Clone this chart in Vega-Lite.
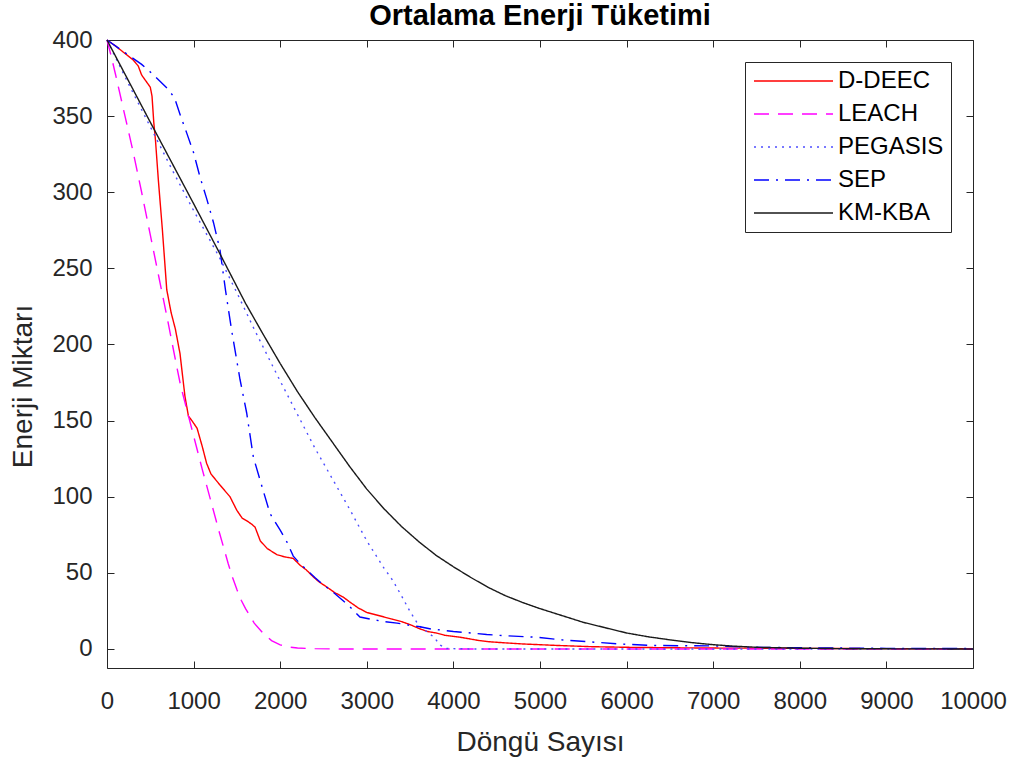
{
  "$schema": "https://vega.github.io/schema/vega-lite/v6.json",
  "width": 866,
  "height": 628,
  "autosize": {"type": "none"},
  "padding": {"left": 107, "top": 40, "right": 48, "bottom": 97},
  "background": "white",
  "config": {
    "view": {"stroke": "#262626", "strokeWidth": 1},
    "font": "Liberation Sans"
  },
  "title": {"text": "Ortalama Enerji Tüketimi", "font": "Liberation Sans", "fontSize": 29, "fontWeight": "bold", "color": "#000000", "offset": 3, "dy": 29, "baseline": "alphabetic", "anchor": "middle", "frame": "group"},
  "data": {"values": [
    {"s":"D-DEEC","x":0,"y":400},{"s":"D-DEEC","x":100,"y":396},{"s":"D-DEEC","x":200,"y":391.5},{"s":"D-DEEC","x":300,"y":387},{"s":"D-DEEC","x":360,"y":383},{"s":"D-DEEC","x":400,"y":377},{"s":"D-DEEC","x":450,"y":373},{"s":"D-DEEC","x":500,"y":369},{"s":"D-DEEC","x":520,"y":363},{"s":"D-DEEC","x":540,"y":346},{"s":"D-DEEC","x":560,"y":334},{"s":"D-DEEC","x":593,"y":308},{"s":"D-DEEC","x":640,"y":275},{"s":"D-DEEC","x":690,"y":236},{"s":"D-DEEC","x":740,"y":221},{"s":"D-DEEC","x":790,"y":210},{"s":"D-DEEC","x":843,"y":194},{"s":"D-DEEC","x":900,"y":166},{"s":"D-DEEC","x":940,"y":153},{"s":"D-DEEC","x":980,"y":150},{"s":"D-DEEC","x":1040,"y":145},{"s":"D-DEEC","x":1100,"y":133},{"s":"D-DEEC","x":1150,"y":122},{"s":"D-DEEC","x":1200,"y":115},{"s":"D-DEEC","x":1300,"y":108},{"s":"D-DEEC","x":1420,"y":100},{"s":"D-DEEC","x":1500,"y":91},{"s":"D-DEEC","x":1560,"y":86},{"s":"D-DEEC","x":1620,"y":84},{"s":"D-DEEC","x":1670,"y":82},{"s":"D-DEEC","x":1710,"y":80},{"s":"D-DEEC","x":1770,"y":71},{"s":"D-DEEC","x":1850,"y":66},{"s":"D-DEEC","x":1960,"y":62},{"s":"D-DEEC","x":2050,"y":60.5},{"s":"D-DEEC","x":2150,"y":59.5},{"s":"D-DEEC","x":2230,"y":55},{"s":"D-DEEC","x":2300,"y":52},{"s":"D-DEEC","x":2380,"y":47.5},{"s":"D-DEEC","x":2450,"y":44},{"s":"D-DEEC","x":2530,"y":41},{"s":"D-DEEC","x":2630,"y":37},{"s":"D-DEEC","x":2730,"y":34},{"s":"D-DEEC","x":2800,"y":31},{"s":"D-DEEC","x":2900,"y":27},{"s":"D-DEEC","x":3000,"y":24},{"s":"D-DEEC","x":3100,"y":22.5},{"s":"D-DEEC","x":3200,"y":21},{"s":"D-DEEC","x":3300,"y":19.5},{"s":"D-DEEC","x":3400,"y":18},{"s":"D-DEEC","x":3500,"y":16},{"s":"D-DEEC","x":3600,"y":13.5},{"s":"D-DEEC","x":3700,"y":11.5},{"s":"D-DEEC","x":3800,"y":10.5},{"s":"D-DEEC","x":3900,"y":9},{"s":"D-DEEC","x":4000,"y":8.3},{"s":"D-DEEC","x":4100,"y":7.5},{"s":"D-DEEC","x":4200,"y":6.5},{"s":"D-DEEC","x":4300,"y":5.5},{"s":"D-DEEC","x":4400,"y":4.8},{"s":"D-DEEC","x":4600,"y":4},{"s":"D-DEEC","x":4800,"y":3.3},{"s":"D-DEEC","x":5000,"y":2.8},{"s":"D-DEEC","x":5200,"y":2.3},{"s":"D-DEEC","x":5400,"y":1.9},{"s":"D-DEEC","x":5600,"y":1.5},{"s":"D-DEEC","x":6000,"y":1.1},{"s":"D-DEEC","x":6500,"y":0.8},{"s":"D-DEEC","x":7000,"y":0.6},{"s":"D-DEEC","x":7500,"y":0.5},{"s":"D-DEEC","x":8000,"y":0.4},{"s":"D-DEEC","x":9000,"y":0.2},{"s":"D-DEEC","x":10000,"y":0.1},
    {"s":"LEACH","x":0,"y":400},{"s":"LEACH","x":50,"y":389},{"s":"LEACH","x":100,"y":377},{"s":"LEACH","x":200,"y":352},{"s":"LEACH","x":300,"y":327},{"s":"LEACH","x":400,"y":300},{"s":"LEACH","x":500,"y":272},{"s":"LEACH","x":600,"y":244},{"s":"LEACH","x":700,"y":216},{"s":"LEACH","x":800,"y":187},{"s":"LEACH","x":850,"y":173},{"s":"LEACH","x":900,"y":162},{"s":"LEACH","x":1000,"y":140},{"s":"LEACH","x":1100,"y":118},{"s":"LEACH","x":1200,"y":97},{"s":"LEACH","x":1300,"y":76},{"s":"LEACH","x":1400,"y":56},{"s":"LEACH","x":1450,"y":47},{"s":"LEACH","x":1500,"y":39},{"s":"LEACH","x":1550,"y":32},{"s":"LEACH","x":1600,"y":26.5},{"s":"LEACH","x":1700,"y":17},{"s":"LEACH","x":1800,"y":10.5},{"s":"LEACH","x":1900,"y":5.5},{"s":"LEACH","x":2000,"y":2.7},{"s":"LEACH","x":2100,"y":1.3},{"s":"LEACH","x":2200,"y":0.6},{"s":"LEACH","x":2400,"y":0.2},{"s":"LEACH","x":2700,"y":0},{"s":"LEACH","x":10000,"y":0},
    {"s":"PEGASIS","x":0,"y":400},{"s":"PEGASIS","x":250,"y":371},{"s":"PEGASIS","x":500,"y":343},{"s":"PEGASIS","x":750,"y":315},{"s":"PEGASIS","x":1000,"y":288},{"s":"PEGASIS","x":1300,"y":257},{"s":"PEGASIS","x":1500,"y":234},{"s":"PEGASIS","x":1700,"y":210},{"s":"PEGASIS","x":2000,"y":176},{"s":"PEGASIS","x":2200,"y":154},{"s":"PEGASIS","x":2400,"y":132},{"s":"PEGASIS","x":2600,"y":112},{"s":"PEGASIS","x":2800,"y":92},{"s":"PEGASIS","x":3000,"y":71},{"s":"PEGASIS","x":3200,"y":53},{"s":"PEGASIS","x":3300,"y":45},{"s":"PEGASIS","x":3400,"y":35},{"s":"PEGASIS","x":3500,"y":24.5},{"s":"PEGASIS","x":3600,"y":15.5},{"s":"PEGASIS","x":3700,"y":11},{"s":"PEGASIS","x":3770,"y":8},{"s":"PEGASIS","x":3850,"y":2.5},{"s":"PEGASIS","x":3920,"y":0.3},{"s":"PEGASIS","x":4200,"y":0},{"s":"PEGASIS","x":10000,"y":0},
    {"s":"SEP","x":0,"y":400},{"s":"SEP","x":200,"y":392},{"s":"SEP","x":400,"y":384},{"s":"SEP","x":500,"y":379},{"s":"SEP","x":600,"y":373.5},{"s":"SEP","x":700,"y":368},{"s":"SEP","x":780,"y":362},{"s":"SEP","x":850,"y":350},{"s":"SEP","x":920,"y":339},{"s":"SEP","x":1000,"y":326},{"s":"SEP","x":1074,"y":310},{"s":"SEP","x":1150,"y":296},{"s":"SEP","x":1230,"y":280},{"s":"SEP","x":1305,"y":262},{"s":"SEP","x":1370,"y":235},{"s":"SEP","x":1440,"y":209},{"s":"SEP","x":1536,"y":177},{"s":"SEP","x":1613,"y":155},{"s":"SEP","x":1690,"y":126},{"s":"SEP","x":1767,"y":111},{"s":"SEP","x":1882,"y":89},{"s":"SEP","x":2000,"y":78},{"s":"SEP","x":2080,"y":70},{"s":"SEP","x":2151,"y":61},{"s":"SEP","x":2230,"y":56},{"s":"SEP","x":2306,"y":52},{"s":"SEP","x":2400,"y":47},{"s":"SEP","x":2500,"y":42},{"s":"SEP","x":2575,"y":39},{"s":"SEP","x":2700,"y":33},{"s":"SEP","x":2800,"y":28},{"s":"SEP","x":2921,"y":21},{"s":"SEP","x":3050,"y":19.5},{"s":"SEP","x":3191,"y":18},{"s":"SEP","x":3350,"y":17},{"s":"SEP","x":3500,"y":15.5},{"s":"SEP","x":3614,"y":14.6},{"s":"SEP","x":3750,"y":13},{"s":"SEP","x":3850,"y":12.5},{"s":"SEP","x":4000,"y":11.5},{"s":"SEP","x":4200,"y":10.5},{"s":"SEP","x":4385,"y":9.5},{"s":"SEP","x":4600,"y":8.7},{"s":"SEP","x":4962,"y":7.7},{"s":"SEP","x":5250,"y":6},{"s":"SEP","x":5539,"y":4.8},{"s":"SEP","x":5924,"y":3.3},{"s":"SEP","x":6308,"y":2.3},{"s":"SEP","x":6700,"y":2.1},{"s":"SEP","x":7001,"y":2},{"s":"SEP","x":7463,"y":1.1},{"s":"SEP","x":8000,"y":0.8},{"s":"SEP","x":8500,"y":0.6},{"s":"SEP","x":9000,"y":0.4},{"s":"SEP","x":10000,"y":0.3},
    {"s":"KM-KBA","x":0,"y":400},{"s":"KM-KBA","x":500,"y":346},{"s":"KM-KBA","x":1000,"y":292.5},{"s":"KM-KBA","x":1300,"y":260},{"s":"KM-KBA","x":1600,"y":227},{"s":"KM-KBA","x":1800,"y":207},{"s":"KM-KBA","x":2000,"y":187.5},{"s":"KM-KBA","x":2200,"y":169},{"s":"KM-KBA","x":2400,"y":152},{"s":"KM-KBA","x":2600,"y":136},{"s":"KM-KBA","x":2800,"y":120},{"s":"KM-KBA","x":3000,"y":105},{"s":"KM-KBA","x":3200,"y":92},{"s":"KM-KBA","x":3400,"y":80.5},{"s":"KM-KBA","x":3600,"y":70.5},{"s":"KM-KBA","x":3800,"y":61.5},{"s":"KM-KBA","x":4000,"y":54},{"s":"KM-KBA","x":4200,"y":47},{"s":"KM-KBA","x":4400,"y":40.5},{"s":"KM-KBA","x":4600,"y":35},{"s":"KM-KBA","x":4800,"y":30.5},{"s":"KM-KBA","x":5000,"y":26.5},{"s":"KM-KBA","x":5250,"y":22},{"s":"KM-KBA","x":5500,"y":17.5},{"s":"KM-KBA","x":5750,"y":14},{"s":"KM-KBA","x":6000,"y":10.5},{"s":"KM-KBA","x":6250,"y":8},{"s":"KM-KBA","x":6500,"y":6},{"s":"KM-KBA","x":6750,"y":4.2},{"s":"KM-KBA","x":7000,"y":2.8},{"s":"KM-KBA","x":7250,"y":1.8},{"s":"KM-KBA","x":7500,"y":1.1},{"s":"KM-KBA","x":8000,"y":0.5},{"s":"KM-KBA","x":8500,"y":0.2},{"s":"KM-KBA","x":9000,"y":0.1},{"s":"KM-KBA","x":10000,"y":0}
  ]},
  "resolve": {"axis": {"x": "independent", "y": "independent"}},
  "layer": [
    {
      "mark": {"type": "line", "strokeWidth": 1.4},
      "encoding": {
        "x": {"field": "x", "type": "quantitative", "scale": {"domain": [0, 10000], "nice": false, "zero": false},
          "axis": {"orient": "bottom", "values": [0,1000,2000,3000,4000,5000,6000,7000,8000,9000,10000], "format": "d", "ticks": false, "domain": false, "grid": false, "labelFlush": false, "labelOverlap": false, "labelFont": "Liberation Sans", "labelFontSize": 24, "labelColor": "#262626", "labelBaseline": "alphabetic", "labelPadding": 40, "title": "Döngü Sayısı", "titleFont": "Liberation Sans", "titleFontSize": 28, "titleFontWeight": "normal", "titleColor": "#262626", "titleBaseline": "alphabetic", "titleY": 82}},
        "y": {"field": "y", "type": "quantitative", "scale": {"domain": [-12.5, 400], "nice": false, "zero": false},
          "axis": {"orient": "left", "values": [0,50,100,150,200,250,300,350,400], "format": "d", "ticks": false, "domain": false, "grid": false, "labelFlush": false, "labelOverlap": false, "labelFont": "Liberation Sans", "labelFontSize": 24, "labelColor": "#262626", "labelPadding": 15, "title": "Enerji Miktarı", "titleFont": "Liberation Sans", "titleFontSize": 28, "titleFontWeight": "normal", "titleColor": "#262626", "titleAngle": -90, "titleAlign": "center", "titleBaseline": "middle", "titleX": -84, "titleY": 346}},
        "color": {"field": "s", "type": "nominal",
          "scale": {"domain": ["D-DEEC","LEACH","PEGASIS","SEP","KM-KBA"], "range": ["#ff0000","#ff00ff","#4d4dff","#0000ff","#1a1a1a"]},
          "legend": {"title": null, "orient": "none", "legendX": 638, "legendY": 22, "symbolType": "M-1,0L6.9,0", "symbolSize": 400, "symbolStrokeWidth": 1.5, "labelOffset": 62, "rowPadding": 9, "padding": 7, "strokeColor": "#262626", "fillColor": "white", "labelFont": "Liberation Sans", "labelFontSize": 24, "labelColor": "#000000"}},
        "strokeDash": {"field": "s", "type": "nominal",
          "scale": {"domain": ["D-DEEC","LEACH","PEGASIS","SEP","KM-KBA"], "range": [[1,0],[15,9],[2,5],[15,7,2,7],[1,0]]},
          "legend": {"title": null, "orient": "none", "legendX": 638, "legendY": 22, "symbolType": "M-1,0L6.9,0", "symbolSize": 400, "symbolStrokeWidth": 1.5, "labelOffset": 62, "rowPadding": 9, "padding": 7, "strokeColor": "#262626", "fillColor": "white", "labelFont": "Liberation Sans", "labelFontSize": 24, "labelColor": "#000000"}}
      }
    },
    {
      "mark": {"type": "point", "opacity": 0},
      "encoding": {
        "x": {"field": "x", "type": "quantitative", "axis": {"orient": "top", "offset": -628, "values": [0,1000,2000,3000,4000,5000,6000,7000,8000,9000,10000], "labels": false, "domain": false, "grid": false, "ticks": true, "tickSize": 7, "tickColor": "#262626", "tickWidth": 1, "title": null}},
        "y": {"field": "y", "type": "quantitative", "axis": {"orient": "right", "offset": -866, "values": [0,50,100,150,200,250,300,350,400], "labels": false, "domain": false, "grid": false, "ticks": true, "tickSize": 7, "tickColor": "#262626", "tickWidth": 1, "title": null}}
      }
    },
    {
      "mark": {"type": "point", "opacity": 0},
      "encoding": {
        "x": {"field": "x", "type": "quantitative", "axis": {"orient": "bottom", "offset": -628, "values": [0,1000,2000,3000,4000,5000,6000,7000,8000,9000,10000], "labels": false, "domain": false, "grid": false, "ticks": true, "tickSize": 7, "tickColor": "#262626", "tickWidth": 1, "title": null}},
        "y": {"field": "y", "type": "quantitative", "axis": {"orient": "left", "offset": -866, "values": [0,50,100,150,200,250,300,350,400], "labels": false, "domain": false, "grid": false, "ticks": true, "tickSize": 7, "tickColor": "#262626", "tickWidth": 1, "title": null}}
      }
    }
  ]
}
